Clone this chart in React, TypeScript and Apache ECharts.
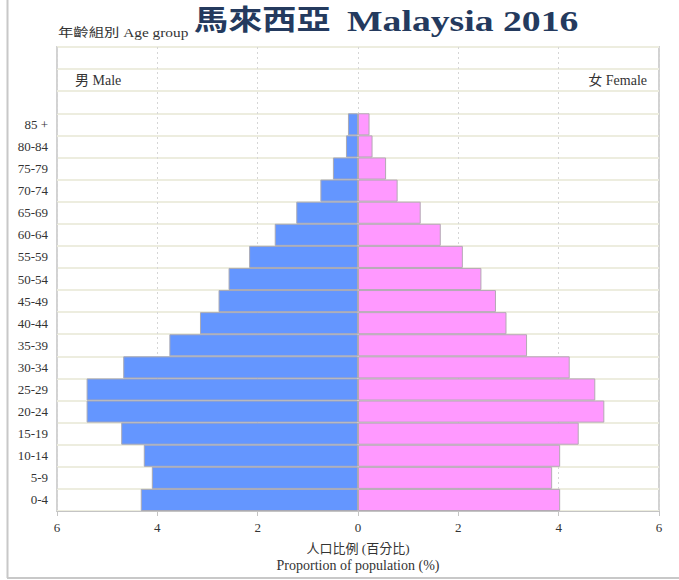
import React, { useEffect, useRef } from "react";
import * as echarts from "echarts";

const ageGroups = ["0-4", "5-9", "10-14", "15-19", "20-24", "25-29", "30-34", "35-39", "40-44", "45-49", "50-54", "55-59", "60-64", "65-69", "70-74", "75-79", "80-84", "85 +"];
const emptyRows = [" ", "  ", "   "];
const maleValues = [4.33, 4.11, 4.27, 4.72, 5.41, 5.41, 4.68, 3.76, 3.15, 2.78, 2.58, 2.17, 1.66, 1.23, 0.75, 0.5, 0.24, 0.2];
const femaleValues = [4.03, 3.87, 4.03, 4.4, 4.91, 4.73, 4.22, 3.37, 2.96, 2.75, 2.46, 2.09, 1.65, 1.25, 0.79, 0.56, 0.29, 0.23];
const xMin = -6;
const xMax = 6;
const xStep = 2;

const SERIF = "'Liberation Serif', 'Times New Roman', 'Noto Sans CJK TC', serif";

export default function App() {
  const ref = useRef<HTMLDivElement>(null);
  useEffect(() => {
    if (!ref.current) return;
    const chart = echarts.init(ref.current, null, { renderer: "svg" });
    chart.setOption({
      animation: false,
      backgroundColor: "#ffffff",
      grid: {
        left: 57,
        right: 20,
        top: 47,
        bottom: 69,
        show: true,
        borderColor: "#d2d2d2",
        borderWidth: 2,
      },
      xAxis: {
        type: "value",
        min: xMin,
        max: xMax,
        interval: xStep,
        axisLine: { show: true, onZero: false, lineStyle: { color: "#c4c4c4", width: 1 } },
        axisTick: { show: true, length: 5, lineStyle: { color: "#c4c4c4" } },
        axisLabel: {
          formatter: (v: number) => String(Math.abs(v)),
          fontFamily: SERIF,
          fontSize: 13,
          color: "#333",
          margin: 10,
        },
        splitLine: { show: true, lineStyle: { color: "#d6d6d6", type: [2, 3], width: 1 } },
        name: "{a|人口比例 (百分比)}\n{b|Proportion of population (%)}",
        nameLocation: "middle",
        nameGap: 29,
        nameTextStyle: {
          fontFamily: SERIF,
          color: "#333",
          rich: {
            a: { fontFamily: SERIF, fontSize: 13, color: "#333", lineHeight: 17 },
            b: { fontFamily: SERIF, fontSize: 14, color: "#333", lineHeight: 17 },
          },
        },
      },
      yAxis: {
        type: "category",
        data: [...ageGroups, ...emptyRows],
        boundaryGap: true,
        axisLine: { show: false, onZero: false },
        axisTick: { show: false },
        axisLabel: { fontFamily: SERIF, fontSize: 13, color: "#333", margin: 9 },
        splitLine: { show: true, lineStyle: { color: "#ededdf", width: 2 } },
      },
      series: [
        {
          name: "Male",
          type: "bar",
          stack: "pop",
          barCategoryGap: "0%",
          data: maleValues.map((v) => -v),
          itemStyle: { color: "#6496ff", borderColor: "#a9a9b4", borderWidth: 1 },
        },
        {
          name: "Female",
          type: "bar",
          stack: "pop",
          barCategoryGap: "0%",
          data: femaleValues,
          itemStyle: { color: "#ff99ff", borderColor: "#b4a9b4", borderWidth: 1 },
        },
      ],
      graphic: [
        { type: "line", shape: { x1: 7.5, y1: 0, x2: 7.5, y2: 578 }, style: { stroke: "#c8c8c8", lineWidth: 2 } },
        { type: "line", shape: { x1: 7, y1: 578, x2: 679, y2: 578 }, style: { stroke: "#c8c8c8", lineWidth: 2 } },
        {
          type: "text",
          x: 58,
          y: 33,
          scaleX: 1.28,
          style: { text: "年齡組別 Age group", fontFamily: SERIF, fontSize: 12, fill: "#333", verticalAlign: "middle", align: "left" },
        },
        {
          type: "text",
          x: 194,
          y: 21,
          scaleX: 1.22,
          style: { text: "馬來西亞", fontFamily: SERIF, fontSize: 28, fontWeight: "bold", fill: "#243a5e", verticalAlign: "middle", align: "left" },
        },
        {
          type: "text",
          x: 347,
          y: 21,
          scaleX: 1.3,
          style: { text: "Malaysia 2016", fontFamily: SERIF, fontSize: 29, fontWeight: "bold", fill: "#243a5e", verticalAlign: "middle", align: "left" },
        },
        {
          type: "text",
          x: 75,
          y: 80,
          style: { text: "男 Male", fontFamily: SERIF, fontSize: 14, fill: "#333", verticalAlign: "middle", align: "left" },
        },
        {
          type: "text",
          x: 647,
          y: 80,
          style: { text: "女 Female", fontFamily: SERIF, fontSize: 14, fill: "#333", verticalAlign: "middle", align: "right" },
        },
      ],
    });
    return () => chart.dispose();
  }, []);
  return <div ref={ref} style={{ position: "fixed", left: 0, top: 0, width: 679, height: 580 }} />;
}
